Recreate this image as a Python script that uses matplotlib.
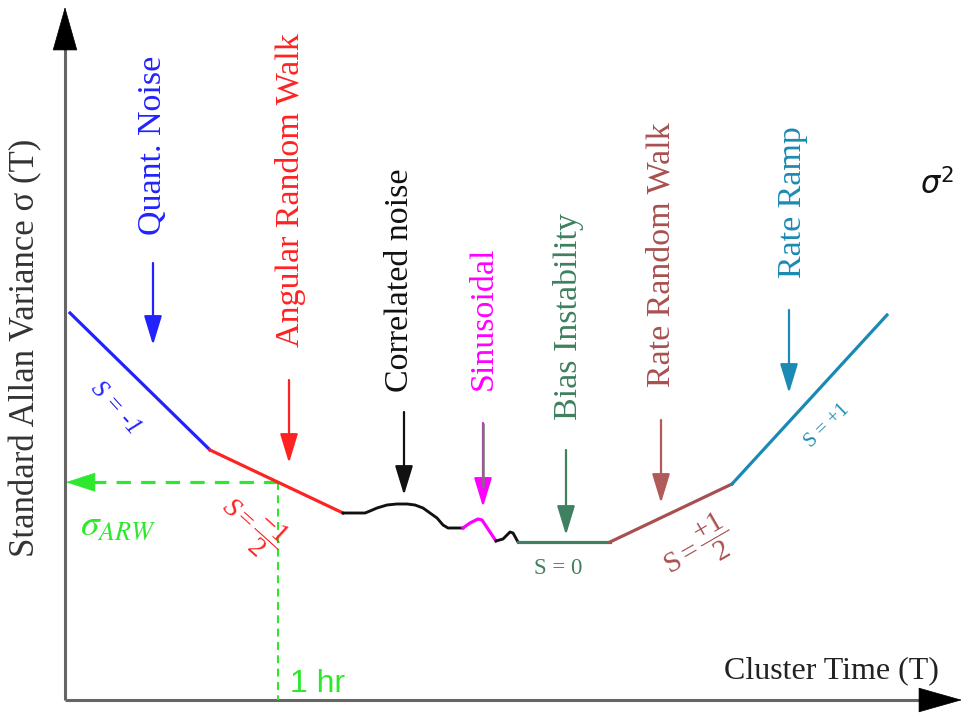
import numpy as np
import matplotlib
matplotlib.use("Agg")
import matplotlib.pyplot as plt
from matplotlib.patches import FancyArrowPatch

plt.rcParams["font.family"] = ["Liberation Serif", "DejaVu Serif"]
plt.rcParams["mathtext.fontset"] = "custom"
plt.rcParams["mathtext.rm"] = "Liberation Serif"
plt.rcParams["mathtext.it"] = "Liberation Serif:italic"
plt.rcParams["mathtext.bf"] = "Liberation Serif:bold"

# Schematic Allan-deviation curve, (log cluster time, log sigma) in chart units
quant_x = [5, 145]
quant_y = [387, 250]
arw_x = [145, 278]
arw_y = [250, 187]
corr_x = [278, 300, 305, 312, 322, 332, 342, 350, 358, 365, 372, 378, 383, 398]
corr_y = [187, 187, 189, 192, 195, 196, 196, 195, 192, 187, 182, 175, 172, 172]
sin_x = [398, 405, 413, 417, 431]
sin_y = [172, 177, 181, 180, 159]
zig_x = [431, 438, 445, 448, 453]
zig_y = [159, 161, 168, 167, 158]
bias_x = [453, 545]
bias_y = [158, 158]
rrw_x = [545, 667]
rrw_y = [158, 216]
ramp_x = [667, 822]
ramp_y = [216, 385]

one_hr_x = 213
sigma_arw = float(np.interp(one_hr_x, arw_x, arw_y))

# Noise-term labels and their pointer arrows
terms = ["Quant. Noise", "Angular Random Walk", "Correlated noise", "Sinusoidal",
         "Bias Instability", "Rate Random Walk", "Rate Ramp"]
term_colors = ["#2222ff", "#ff2222", "#111111", "#ff00ff", "#3f8060", "#a85050", "#1c8ab4"]
arrow_colors = ["#2222ff", "#ff2222", "#111111", "#ff00ff", "#3f8060", "#b05a5a", "#1c8ab4"]
term_x = [88, 224, 339, 418, 501, 596, 724]
arrow_top = [437, 320, 288, 277, 250, 280, 390]
arrow_tip = [355, 237, 205, 193, 165, 197, 307]
label_x = [88, 225, 335, 418, 503, 596, 728]
label_bottom = [465, 353, 308, 310, 280, 313, 422]

fig = plt.figure(figsize=(9.65, 7.18), dpi=100)
ax = fig.add_axes([0, 0, 1, 1])
ax.set_xlim(-65, 900)
ax.set_ylim(-18, 700)
ax.axis("off")

# Axes with arrowheads
ax.plot([0, 0], [0, 662], color="#666666", lw=2.2, solid_capstyle="butt", zorder=2)
ax.plot([0, 866], [0, 0], color="#666666", lw=2.2, solid_capstyle="butt", zorder=2)
for tail, head in [((0, 652), (0, 693)), ((856, 0), (897, 0))]:
    ax.add_patch(FancyArrowPatch(tail, head,
                                 arrowstyle="-|>,head_length=3.0,head_width=0.85",
                                 mutation_scale=10, color="black", lw=0.5,
                                 shrinkA=0, shrinkB=0, zorder=3))

# Curve segments
lw = 2.3
ax.plot(quant_x, quant_y, color="#2222ff", lw=lw, solid_joinstyle="round", zorder=4)
ax.plot(arw_x, arw_y, color="#ff2222", lw=lw, zorder=4)
ax.plot(corr_x, corr_y, color="#111111", lw=lw * 0.9, solid_joinstyle="round", zorder=4)
ax.plot(sin_x, sin_y, color="#ff00ff", lw=lw, solid_joinstyle="round", zorder=4)
ax.plot(zig_x, zig_y, color="#111111", lw=lw * 0.9, solid_joinstyle="round", zorder=4)
ax.plot(bias_x, bias_y, color="#3f8060", lw=lw, zorder=4)
ax.plot(rrw_x, rrw_y, color="#a85050", lw=lw, zorder=4)
ax.plot(ramp_x, ramp_y, color="#1a8ab5", lw=lw, zorder=4)

# ARW read-out guides
green = "#2ee82e"
ax.plot([one_hr_x, 16], [sigma_arw, sigma_arw], color=green, lw=2.3,
        linestyle=(0, (4.5, 3.2)), zorder=3)
ax.add_patch(FancyArrowPatch((22, sigma_arw), (1, sigma_arw),
                             arrowstyle="-|>,head_length=2.0,head_width=0.65",
                             mutation_scale=10, color=green, lw=0.5,
                             shrinkA=0, shrinkB=0, zorder=3))
ax.plot([one_hr_x, one_hr_x], [sigma_arw, 0], color=green, lw=1.5,
        linestyle=(0, (3.8, 2.6)), zorder=3)

# Pointer arrows and noise-term labels
for i, name in enumerate(terms):
    ax.add_patch(FancyArrowPatch((term_x[i], arrow_top[i]), (term_x[i], arrow_tip[i]),
                                 arrowstyle="-|>,head_length=1.8,head_width=0.55",
                                 mutation_scale=10, color=arrow_colors[i], lw=1.6,
                                 shrinkA=0, shrinkB=0, zorder=5))
    if name == "Sinusoidal":
        ax.plot([term_x[i], term_x[i]], [arrow_top[i], arrow_tip[i] + 20],
                color="#777777", lw=1.8, solid_capstyle="butt", zorder=6)
    ax.text(label_x[i], label_bottom[i], name, rotation=90, ha="center", va="bottom",
            color=term_colors[i], fontsize=24.5)

# Slope annotations
ax.text(50, 292, "S = -1", rotation=-48, ha="center", va="center",
        color="#2222ff", fontsize=18, fontstyle="italic")
ax.text(187, 175, r"$\mathit{S} = \mathit{\dfrac{-1}{2}}$", rotation=-42, ha="center",
        va="center", color="#ff2222", fontsize=20)
ax.text(493, 132, "S = 0", ha="center", va="center", color="#3f8060", fontsize=16.5)
ax.text(632, 152, r"$\mathrm{S} = \dfrac{+1}{2}$", rotation=30, ha="center",
        va="center", color="#a85050", fontsize=21)
ax.text(762, 274, "S = +1", rotation=44, ha="center", va="center",
        color="#1c8ab4", fontsize=14.5)

# Axis titles and markers
ax.text(-39, 352, "Standard Allan Variance σ (T)", rotation=90, ha="center",
        va="center", color="#333333", fontsize=25)
ax.text(766, 29, "Cluster Time (T)", ha="center", va="center", color="#222222",
        fontsize=23)
ax.text(872, 515, r"$\sigma^2$", ha="center", va="center", color="#111111",
        fontsize=22, math_fontfamily="dejavusans")
ax.text(15, 165, r"$\sigma_{ARW}$", ha="left", va="baseline", color=green, fontsize=27,
        math_fontfamily="stix")
ax.text(225, 8, "1 hr", ha="left", va="baseline", color=green, fontsize=23,
        family="Liberation Sans")

fig.savefig("out.png", dpi=100)
